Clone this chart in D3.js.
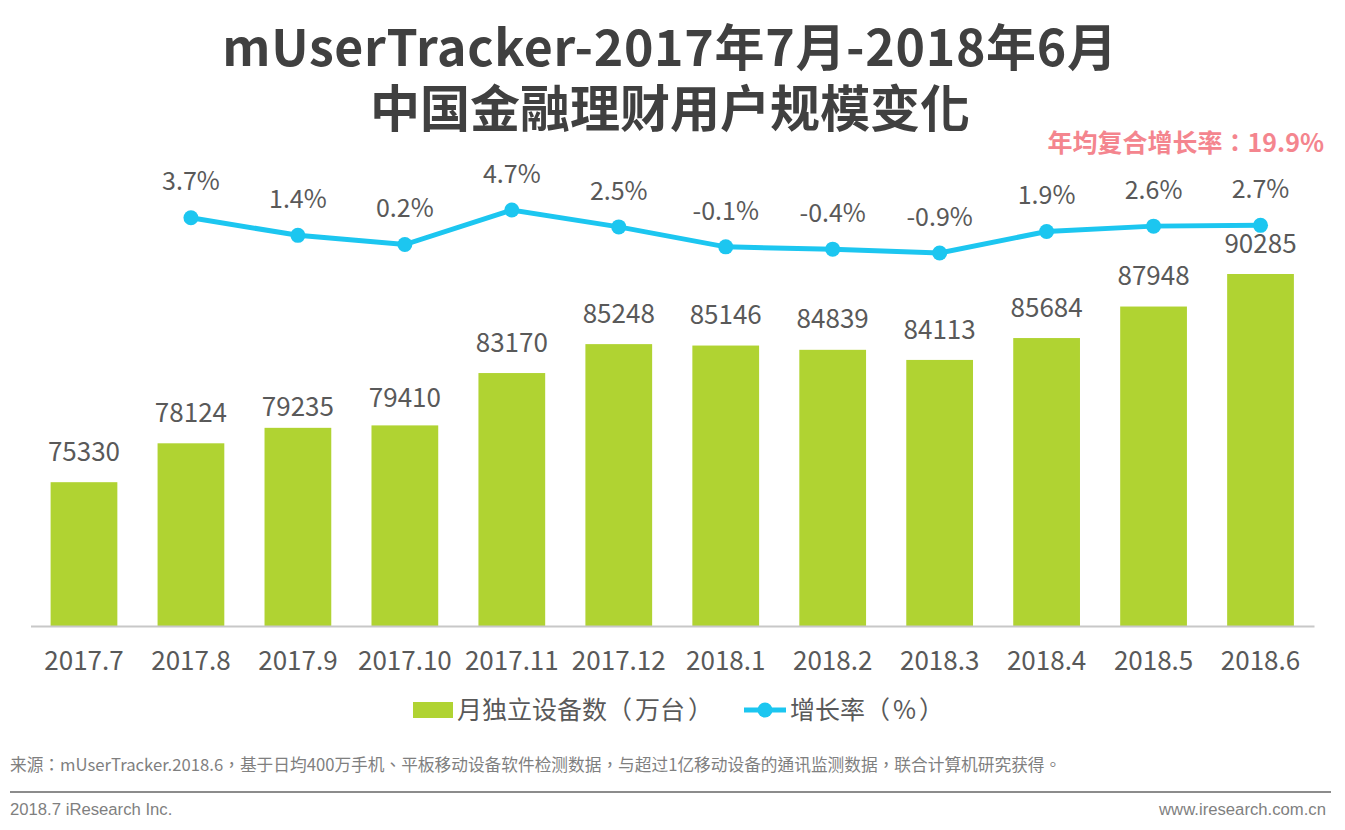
<!DOCTYPE html>
<html>
<head>
<meta charset="utf-8">
<script src="https://cdn.jsdelivr.net/npm/d3@7"></script>
<style>
body { margin: 0; background: #fff; }
text { font-family: "Noto Sans CJK TC", "Noto Sans CJK SC", sans-serif; }
</style>
</head>
<body>
<script>
var months = ["2017.7","2017.8","2017.9","2017.10","2017.11","2017.12","2018.1","2018.2","2018.3","2018.4","2018.5","2018.6"];
var devices = [75330,78124,79235,79410,83170,85248,85146,84839,84113,85684,87948,90285];
var growth = [3.7,1.4,0.2,4.7,2.5,-0.1,-0.4,-0.9,1.9,2.6,2.7];
var growthLabels = ["3.7%","1.4%","0.2%","4.7%","2.5%","-0.1%","-0.4%","-0.9%","1.9%","2.6%","2.7%"];
var growthMonths = months.slice(1);

var w = 1345, h = 830;
var textColor = "#595959";
var svg = d3.select("body").append("svg").attr("width", w).attr("height", h);

// title, one text so the two lines sit together
var title = svg.append("text").attr("text-anchor", "middle")
    .attr("font-size", 50).attr("font-weight", 700).attr("fill", "#404040");
title.append("tspan").attr("x", 670).attr("y", 66).attr("letter-spacing", 0.7).text("mUserTracker-2017年7月-2018年6月");
title.append("tspan").attr("x", 670).attr("y", 127).text("中国金融理财用户规模变化");

svg.append("text").attr("x", 1324).attr("y", 152).attr("text-anchor", "end")
    .attr("font-size", 25).attr("font-weight", 700).attr("fill", "#f4858e").text("年均复合增长率：19.9%");

var x = d3.scaleBand().domain(months).range([30.5, 1314]).paddingInner(0.376).paddingOuter(0.188);
var y = d3.scaleLinear().domain([65000, 90285]).range([626, 274]);
var yLine = d3.scaleLinear().domain([-0.9, 4.7]).range([253, 210]);

var cx = function(m) { return x(m) + x.bandwidth() / 2; };

svg.selectAll("rect.bar").data(months).enter().append("rect").attr("class", "bar")
    .attr("x", function(d) { return x(d); })
    .attr("width", x.bandwidth())
    .attr("y", function(d, i) { return y(devices[i]); })
    .attr("height", function(d, i) { return 626 - y(devices[i]); })
    .attr("fill", "#b0d332");

// labels sit about 30px above the bars, 2017.9 and 2017.10 are closer in the original
var labelLift = function(d) {
    if (d == "2017.9") return 21;
    if (d == "2017.10") return 27;
    return 30.5;
};
svg.selectAll("text.val").data(months).enter().append("text").attr("class", "val")
    .attr("x", cx)
    .attr("y", function(d, i) { return y(devices[i]) - labelLift(d); })
    .attr("dy", "0.35em")
    .attr("text-anchor", "middle").attr("font-size", 26).attr("fill", textColor)
    .text(function(d, i) { return devices[i]; });

// axis
var axis = svg.append("g").attr("transform", "translate(0,626)").call(d3.axisBottom(x).tickSize(0).tickPadding(26));
axis.select(".domain").attr("stroke", "#c8c8c8").attr("stroke-width", 2);
axis.selectAll("text").attr("font-size", 26).attr("fill", textColor)
    .style("font-family", '"Noto Sans CJK TC", "Noto Sans CJK SC", sans-serif');

// growth line
var line = d3.line().x(function(d) { return cx(d); }).y(function(d, i) { return yLine(growth[i]); });
svg.append("path").datum(growthMonths).attr("d", line).attr("fill", "none")
    .attr("stroke", "#1cc6f0").attr("stroke-width", 5);
svg.selectAll("circle.pt").data(growthMonths).enter().append("circle").attr("class", "pt")
    .attr("cx", cx).attr("cy", function(d, i) { return yLine(growth[i]); })
    .attr("r", 7.5).attr("fill", "#1cc6f0");
svg.selectAll("text.gr").data(growthMonths).enter().append("text").attr("class", "gr")
    .attr("x", cx)
    .attr("y", function(d, i) { return yLine(growth[i]) - 36; })
    .attr("dy", "0.35em")
    .attr("text-anchor", "middle").attr("font-size", 25).attr("fill", textColor)
    .text(function(d, i) { return growthLabels[i]; });

// legend
svg.append("rect").attr("x", 413).attr("y", 702).attr("width", 40).attr("height", 16).attr("fill", "#b0d332");
var leg1 = svg.append("text").attr("x", 457).attr("y", 719).attr("font-size", 25).attr("fill", textColor);
leg1.append("tspan").text("月独立设备数（");
leg1.append("tspan").attr("dx", 3).text("万台");
leg1.append("tspan").attr("dx", 3).text("）");
svg.append("line").attr("x1", 744).attr("x2", 786).attr("y1", 710).attr("y2", 710).attr("stroke", "#1cc6f0").attr("stroke-width", 5);
svg.append("circle").attr("cx", 765).attr("cy", 710).attr("r", 7.5).attr("fill", "#1cc6f0");
var leg2 = svg.append("text").attr("x", 790).attr("y", 719).attr("font-size", 25).attr("fill", textColor);
leg2.append("tspan").text("增长率（");
leg2.append("tspan").attr("dx", 3).text("%");
leg2.append("tspan").attr("dx", 3).text("）");

// footer
svg.append("text").attr("x", 10).attr("y", 771).attr("font-size", 16.7).attr("fill", "#7f7f7f")
    .text("来源：mUserTracker.2018.6，基于日均400万手机、平板移动设备软件检测数据，与超过1亿移动设备的通讯监测数据，联合计算机研究获得。");
svg.append("line").attr("x1", 10).attr("x2", 1331).attr("y1", 792).attr("y2", 792).attr("stroke", "#8c8c8c").attr("stroke-width", 2);
svg.append("text").attr("x", 10).attr("y", 815).attr("font-size", 16.7).attr("fill", "#7f7f7f")
    .style("font-family", '"Liberation Sans", sans-serif').text("2018.7 iResearch Inc.");
svg.append("text").attr("x", 1326).attr("y", 815).attr("text-anchor", "end").attr("font-size", 16.7).attr("fill", "#7f7f7f")
    .style("font-family", '"Liberation Sans", sans-serif').text("www.iresearch.com.cn");
</script>
</body>
</html>
